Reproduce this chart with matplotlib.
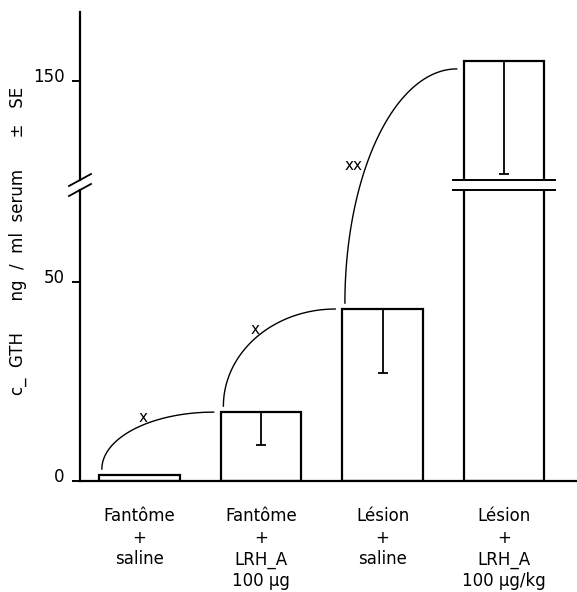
import numpy as np
import matplotlib
matplotlib.use("Agg")
import matplotlib.pyplot as plt
from matplotlib.lines import Line2D
from matplotlib.transforms import ScaledTranslation

# donnees
groupes = ["Fantôme\n+\nsaline", "Fantôme\n+\nLRH_A\n100 µg",
           "Lésion\n+\nsaline", "Lésion\n+\nLRH_A\n100 µg/kg"]
moyennes = [1.5, 17.3, 43.2, 155.0]
erreurs = [0.0, 8.3, 16.1, 28.4]
signif = ["x", "x", "xx"]
ticks_bas = [0, 50]
ticks_haut = [150]

W, H = 577, 592
plt.rcParams['font.family'] = ['DejaVu Sans']
plt.rcParams['font.size'] = 12

fig = plt.figure(figsize=(W / 100, H / 100), dpi=100)


def boite(x0, y0, x1, y1):
    """rectangle en pixels (origine en haut a gauche) -> fraction de figure"""
    return [x0 / W, 1 - y1 / H, (x1 - x0) / W, (y1 - y0) / H]


ax_bas = fig.add_axes(boite(80, 190, 577, 481))
ax_haut = fig.add_axes(boite(80, 12, 577, 180))

x = np.arange(len(groupes))
larg = 0.66
m = np.array(moyennes)
e = np.array(erreurs)
avec_err = e > 0

for ax in (ax_bas, ax_haut):
    ax.bar(x, m, width=larg, fill=False, edgecolor='black', linewidth=1.6)
    ax.errorbar(x[avec_err], m[avec_err],
                yerr=[e[avec_err], np.zeros(avec_err.sum())],
                fmt='none', ecolor='black', elinewidth=1.3,
                capsize=3.6, capthick=1.3)
    ax.set_xlim(-0.49, 3.6)
    for s in ('top', 'right'):
        ax.spines[s].set_visible(False)
    ax.spines['left'].set_linewidth(1.6)
    ax.tick_params(axis='y', direction='out', length=6, width=1.4, pad=5)

ax_bas.set_ylim(0, 73.1)
ax_haut.set_ylim(125.1, 167.3)
ax_haut.spines['bottom'].set_visible(False)
ax_haut.set_xticks([])
ax_bas.set_yticks(ticks_bas)
ax_haut.set_yticks(ticks_haut)
ax_bas.spines['bottom'].set_linewidth(1.6)

ax_bas.set_xticks(x, groupes)
ax_bas.tick_params(axis='x', length=0, pad=19)
for t in ax_bas.get_xticklabels():
    t.set_linespacing(1.25)

# etiquettes de l'axe y un peu au-dessus du trait
decal = ScaledTranslation(0, 4 / 72, fig.dpi_scale_trans)
for ax in (ax_bas, ax_haut):
    for t in ax.get_yticklabels():
        t.set_transform(t.get_transform() + decal)

# coupure de l'axe (//)
dx, dy = 11 / 497, 6
for ax, yb in ((ax_haut, 0), (ax_bas, 1)):
    h = ax.get_window_extent().height
    ax.plot([-dx, dx], [yb - dy / h, yb + dy / h], transform=ax.transAxes,
            color='black', lw=1.3, clip_on=False)

# coupure de la derniere barre
for ax, yv in ((ax_haut, ax_haut.get_ylim()[0]), (ax_bas, ax_bas.get_ylim()[1])):
    ax.plot([x[-1] - 0.42, x[-1] + 0.42], [yv, yv], color='black', lw=1.4,
            clip_on=False)


def axe_de(v):
    return ax_haut if v > ax_bas.get_ylim()[1] else ax_bas


# arcs de comparaison entre barres voisines
inv = fig.transFigure.inverted()
for i in range(len(groupes) - 1):
    p0 = axe_de(m[i]).transData.transform((x[i] - larg / 2 + 0.02, m[i] + 1.5))
    p1 = axe_de(m[i + 1]).transData.transform((x[i + 1] - larg / 2 - 0.06, m[i + 1] - (2 if i == 2 else 0)))
    t = np.linspace(np.pi, np.pi / 2, 80)
    cx, cy = p1[0], p0[1]
    a, b = p1[0] - p0[0], p1[1] - p0[1]
    pts = inv.transform(np.column_stack([cx + a * np.cos(t), cy + b * np.sin(t)]))
    fig.add_artist(Line2D(pts[:, 0], pts[:, 1], transform=fig.transFigure,
                          color='black', lw=1.0))

# marques de significativite
pos_marques = [(143, 417), (255, 330), (354, 165)]
for txt, (px, py) in zip(signif, pos_marques):
    fig.text(px / W, 1 - py / H, txt, ha='center', va='center', fontsize=11)

fig.text(18 / W, 1 - 241 / H, "c_  GTH      ng  /  ml  serum      ±   SE",
         rotation=90, ha='center', va='center', fontsize=12)

fig.savefig("out.png", dpi=100)
